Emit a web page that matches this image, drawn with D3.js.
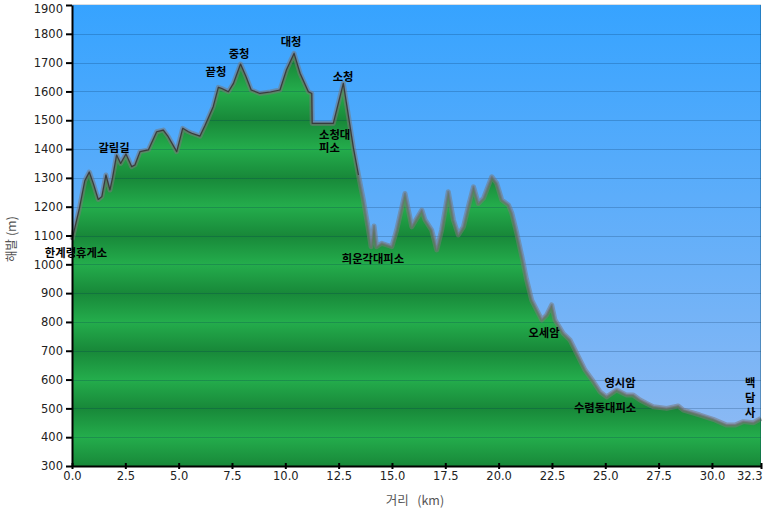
<!DOCTYPE html>
<html>
<head>
<meta charset="utf-8">
<script src="https://cdn.jsdelivr.net/npm/d3@7"></script>
<style>
  body { margin: 0; background: #fff; }
  svg { display: block; }
</style>
</head>
<body>
<svg id="graph" width="763" height="512"></svg>
<script>
'use strict'

// profile: distance (km) and altitude (m)
var distKm = [0.00,0.35,0.60,0.81,1.00,1.23,1.40,1.59,1.78,1.90,2.09,2.28,2.53,2.80,2.95,3.19,3.58,3.97,4.28,4.51,
  4.91,5.19,5.46,5.61,6.00,6.24,6.62,6.86,7.02,7.33,7.57,7.90,8.16,8.40,8.81,9.30,9.75,10.05,10.41,10.69,
  11.08,11.24,11.26,12.25,12.72,13.00,13.19,13.43,13.66,13.90,14.02,14.16,14.28,14.52,14.75,14.99,15.22,15.61,15.93,16.16,
  16.40,16.55,16.86,17.10,17.33,17.64,17.88,18.11,18.35,18.58,18.82,19.05,19.29,19.68,19.91,20.15,20.46,20.62,20.85,21.09,
  21.30,21.55,22.02,22.25,22.49,22.64,23.03,23.35,23.66,24.05,24.44,24.75,25.06,25.53,26.00,26.31,26.63,26.94,27.25,27.88,
  28.42,28.66,29.44,30.06,30.69,31.08,31.47,31.94,32.30];
var elevM = [1085,1195,1290,1320,1280,1225,1235,1310,1258,1300,1379,1350,1383,1339,1345,1391,1397,1460,1466,1443,
  1391,1472,1460,1455,1445,1483,1547,1614,1610,1599,1628,1695,1651,1605,1593,1598,1605,1674,1732,1663,
  1599,1593,1489,1489,1628,1495,1405,1310,1223,1119,1061,1133,1061,1073,1067,1061,1119,1246,1130,1159,
  1188,1154,1119,1050,1119,1252,1154,1102,1130,1200,1269,1211,1229,1304,1281,1223,1206,1177,1108,1027,
  950,876,807,824,859,807,760,737,691,633,593,558,540,564,546,546,529,517,506,500,
  508,494,477,462,442,442,454,450,465];

var xTicks = [0,2.5,5,7.5,10,12.5,15,17.5,20,22.5,25,27.5,30,32.3];
var yTicks = [300,400,500,600,700,800,900,1000,1100,1200,1300,1400,1500,1600,1700,1800,1900];

// place names, anchored at (km, m)
var placeNames = ['한계령휴게소','갈림길','끝청','중청','대청','소청','희운각대피소','오세암','영시암','수렴동대피소'];
var placeKm = [0.19,1.97,6.75,7.83,10.27,12.71,14.11,22.13,25.69,24.99];
var placeElev = [1039,1404,1667,1730,1772,1650,1020,762,588,501];
// names written on several lines
var stackedNames = [['소청대','피소'],['백','담','사']];
var stackedKm = [11.58,31.55];
var stackedElev = [1449,588];

var margin = {left:72, top:5, right:2, bottom:46};
var width = 763, height = 512;

var svg = d3.select('#graph');
var defs = svg.append('defs');

var x = d3.scaleLinear().domain([0,32.3]).range([margin.left, width-margin.right]);
var y = d3.scaleLinear().domain([300,1900]).range([height-margin.bottom, margin.top]);

var sky = defs.append('linearGradient').attr('id','sky')
  .attr('x1',0).attr('y1',0).attr('x2',0).attr('y2',1);
sky.append('stop').attr('offset','0%').attr('stop-color','#36a3ff');
sky.append('stop').attr('offset','100%').attr('stop-color','#92bbf3');

var band = defs.append('linearGradient').attr('id','band')
  .attr('gradientUnits','userSpaceOnUse')
  .attr('spreadMethod','reflect')
  .attr('x1',0).attr('x2',0)
  .attr('y1',y(1000)).attr('y2',y(900));
band.append('stop').attr('offset','0%').attr('stop-color','#24ad4c');
band.append('stop').attr('offset','100%').attr('stop-color','#188839');

var pts = distKm.map(function(d,i){ return [d, elevM[i]]; });

svg.append('rect')
  .attr('x',x(0)).attr('y',y(1900)-1)
  .attr('width',x(32.3)-x(0)).attr('height',y(300)-y(1900)+1)
  .attr('fill','url(#sky)');
svg.append('line')
  .attr('x1',x(0)).attr('x2',x(32.3))
  .attr('y1',y(1900)-0.5).attr('y2',y(1900)-0.5)
  .attr('stroke','#d8dde2').attr('stroke-width',1);

var area = d3.area().x(function(d){ return x(d[0]); }).y0(y(300)).y1(function(d){ return y(d[1]); });
var line = d3.line().x(function(d){ return x(d[0]); }).y(function(d){ return y(d[1]); });

svg.append('path').datum(pts).attr('d',area).attr('fill','url(#band)');

// grid
svg.append('g').selectAll('line').data(yTicks.slice(1,-1)).enter().append('line')
  .attr('x1',x(0)).attr('x2',x(32.3))
  .attr('y1',function(d){ return Math.round(y(d))+0.5; })
  .attr('y2',function(d){ return Math.round(y(d))+0.5; })
  .attr('stroke','rgba(0,40,80,0.22)').attr('stroke-width',1);

// fuzzy grey edge of the profile
svg.append('path').datum(pts).attr('d',line)
  .attr('fill','none').attr('stroke','rgba(120,120,120,0.55)').attr('stroke-width',5).attr('stroke-linejoin','round');
svg.append('path').datum(pts).attr('d',line)
  .attr('fill','none').attr('stroke','rgba(110,110,110,0.6)').attr('stroke-width',2).attr('stroke-linejoin','round');
svg.append('path').datum(pts.filter(function(d){ return d[0] < 13.5; })).attr('d',line)
  .attr('fill','none').attr('stroke','rgba(40,40,40,0.75)').attr('stroke-width',1.2).attr('stroke-linejoin','round');

svg.append('line')
  .attr('x1',x(32.3)-0.5).attr('x2',x(32.3)-0.5)
  .attr('y1',y(1900)).attr('y2',y(300))
  .attr('stroke','rgba(0,60,90,0.35)');

// axes
var xAxis = d3.axisBottom(x).tickValues(xTicks).tickFormat(d3.format('.1f')).tickSize(3).tickSizeOuter(0);
var yAxis = d3.axisLeft(y).tickValues(yTicks).tickFormat(d3.format('d')).tickSize(6).tickSizeOuter(0);

var gx = svg.append('g').attr('transform','translate(0,'+y(300)+')').call(xAxis);
var gy = svg.append('g').attr('transform','translate('+x(0)+',0)').call(yAxis);

[gx,gy].forEach(function(g){
  g.select('.domain').attr('stroke','#000').attr('stroke-width',2);
  g.selectAll('.tick line').attr('stroke','#000').attr('stroke-width',2);
  g.selectAll('.tick text').attr('fill','#222')
    .style('font-family','"DejaVu Sans", Verdana, sans-serif').style('font-size','11.5px');
});
gx.selectAll('.tick').append('line').attr('y1',-3).attr('y2',0).attr('stroke','#000').attr('stroke-width',2);
gx.selectAll('.tick text').attr('dy','0.9em').attr('y',4);
gx.selectAll('.tick text').filter(function(d){ return d === 32.3; }).attr('text-anchor','end').attr('x',1);
gy.selectAll('.tick text').attr('x',-9);
gy.selectAll('.tick text').filter(function(d){ return d === 1900; }).attr('dy','0.62em');

// axis titles
svg.append('text')
  .attr('x',415).attr('y',505).attr('text-anchor','middle')
  .attr('fill','#555').style('font-family','"Noto Sans CJK KR", sans-serif').style('font-size','12.5px')
  .attr('xml:space','preserve')
  .text('거리   (km)');
svg.append('text')
  .attr('transform','translate(16,239) rotate(-90)').attr('text-anchor','middle')
  .attr('fill','#555').style('font-family','"Noto Sans CJK KR", sans-serif').style('font-size','12.5px')
  .attr('xml:space','preserve')
  .text('해발 (m)');

// place names
var labelFont = '"Noto Sans CJK KR", sans-serif';
svg.append('g').selectAll('text').data(placeNames).enter().append('text')
  .attr('x',function(d,i){ return x(placeKm[i]); })
  .attr('y',function(d,i){ return y(placeElev[i]); })
  .attr('dy','0.35em').attr('text-anchor','middle')
  .attr('fill','#000').style('font-family',labelFont).style('font-size','11.3px').style('font-weight','bold')
  .text(function(d){ return d; });

stackedNames.forEach(function(lines,i){
  var t = svg.append('text')
    .attr('x',x(stackedKm[i])).attr('y',y(stackedElev[i])).attr('dy','0.35em')
    .attr('fill','#000').style('font-family',labelFont).style('font-size','11.3px').style('font-weight','bold');
  lines.forEach(function(s,j){
    t.append('tspan').attr('x',x(stackedKm[i])).attr('dy', j === 0 ? '0.35em' : (i === 0 ? 13 : 15)).text(s);
  });
});
</script>
</body>
</html>
